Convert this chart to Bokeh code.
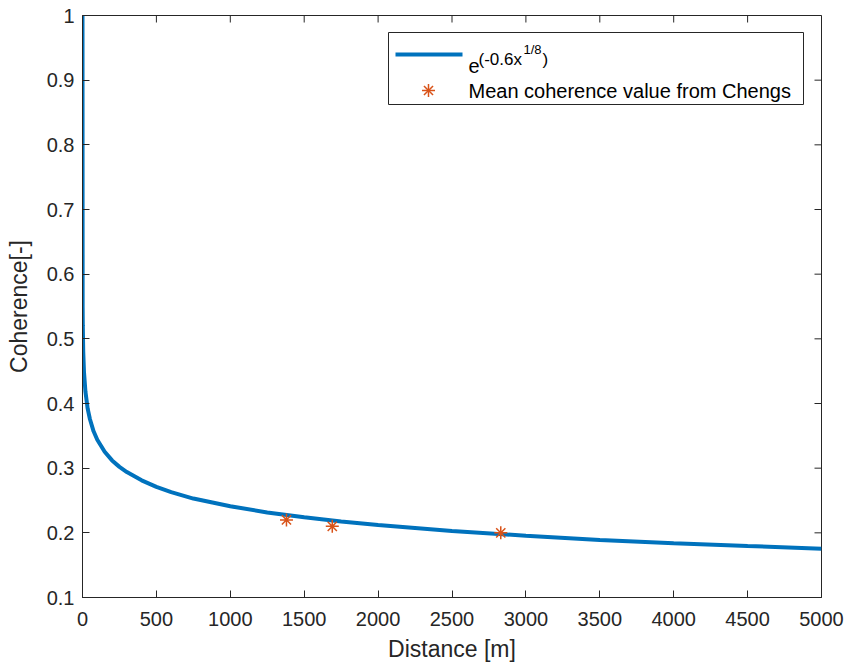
from bokeh.plotting import figure
from bokeh.models import (Range1d, LinearAxis, FixedTicker, BoxAnnotation, Label, Arrow)
from bokeh.embed import file_html
from bokeh.resources import INLINE

# ---- data ----
curve_x = [0, 1, 2, 5, 10, 20, 35, 50, 75, 100, 150, 200, 250, 300, 400, 500, 600,
           750, 1000, 1250, 1500, 1750, 2000, 2500, 3000, 3500, 4000, 4500, 5000]
curve_y = [1.0, 0.549, 0.520, 0.480, 0.449, 0.418, 0.392, 0.376, 0.357, 0.344, 0.3255,
           0.312, 0.302, 0.294, 0.2812, 0.271, 0.263, 0.253, 0.241, 0.2315, 0.224,
           0.2174, 0.212, 0.203, 0.1955, 0.189, 0.184, 0.1796, 0.1755]
pts_x = [1380, 1690, 2830]
pts_y = [0.22, 0.21, 0.20]
x_ticks = [0, 500, 1000, 1500, 2000, 2500, 3000, 3500, 4000, 4500, 5000]
y_ticks = [0.1, 0.2, 0.3, 0.4, 0.5, 0.6, 0.7, 0.8, 0.9, 1.0]
y_tick_labels = ["0.1", "0.2", "0.3", "0.4", "0.5", "0.6", "0.7", "0.8", "0.9", "1"]
x_label = "Distance [m]"
y_label = "Coherence[-]"
legend_text_2 = "Mean coherence value from Chengs"

BLUE = "#0072BD"
ORANGE = "#D95319"
AX = "#262626"
FONT = "Liberation Sans"

X0, X1 = 0, 5000
Y0, Y1 = 0.1, 1.0
FW, FH = 739, 582   # frame size in px
TICK = 7

p = figure(width=849, height=668, output_backend="svg", toolbar_location=None,
           x_range=Range1d(X0, X1), y_range=Range1d(Y0, Y1),
           min_border_left=82, min_border_right=28, min_border_top=15, min_border_bottom=71,
           x_axis_location=None, y_axis_location=None)
p.grid.visible = False
p.background_fill_color = "white"
p.border_fill_color = "white"
p.outline_line_color = AX

def style(ax):
    ax.axis_line_color = AX
    ax.major_tick_line_color = AX
    ax.major_tick_in = TICK
    ax.major_tick_out = 0
    ax.minor_tick_line_color = None
    ax.major_label_text_color = AX
    ax.major_label_text_font = FONT
    ax.major_label_text_font_size = "20px"
    ax.axis_label_text_font = FONT
    ax.axis_label_text_font_size = "23px"
    ax.axis_label_text_font_style = "normal"
    ax.axis_label_text_color = AX

xb = LinearAxis(ticker=FixedTicker(ticks=x_ticks), axis_label=x_label)
style(xb)
xb.major_label_standoff = 14
xb.axis_label_standoff = 7
yl = LinearAxis(ticker=FixedTicker(ticks=y_ticks), axis_label=y_label)
style(yl)
yl.major_label_standoff = 8
yl.axis_label_standoff = 12
yl.major_label_overrides = {t: s for t, s in zip(y_ticks, y_tick_labels)}
p.add_layout(xb, "below")
p.add_layout(yl, "left")

# inward ticks on the top and right edges of the box
dy = TICK * (Y1 - Y0) / FH
dx = TICK * (X1 - X0) / FW
p.segment(x0=x_ticks, y0=[Y1] * len(x_ticks), x1=x_ticks, y1=[Y1 - dy] * len(x_ticks),
          line_color=AX, line_width=1)
p.segment(x0=[X1] * len(y_ticks), y0=y_ticks, x1=[X1 - dx] * len(y_ticks), y1=y_ticks,
          line_color=AX, line_width=1)

p.line(curve_x, curve_y, line_color=BLUE, line_width=4)
p.scatter(pts_x, pts_y, marker="asterisk", size=13, line_color=ORANGE, line_width=1.5)

# ---- legend (screen units relative to plot frame) ----
p.add_layout(BoxAnnotation(left=306, right=721, bottom=493, top=565,
                           left_units="screen", right_units="screen",
                           bottom_units="screen", top_units="screen",
                           fill_color="white", fill_alpha=1.0,
                           line_color=AX, line_width=1, line_alpha=1.0))
p.add_layout(Arrow(x_start=313, y_start=543, x_end=380, y_end=543,
                   start_units="screen", end_units="screen", end=None,
                   line_color=BLUE, line_width=4))
cx, cy, r = 346, 507, 6.5
r2 = r * 0.7
for (dx0, dy0, dx1, dy1) in [(0, -r, 0, r), (-r, 0, r, 0), (-r2, -r2, r2, r2), (-r2, r2, r2, -r2)]:
    p.add_layout(Arrow(x_start=cx + dx0, y_start=cy + dy0, x_end=cx + dx1, y_end=cy + dy1,
                       start_units="screen", end_units="screen", end=None,
                       line_color=ORANGE, line_width=1.5))

def lab(x, y, t, size):
    p.add_layout(Label(x=x, y=y, x_units="screen", y_units="screen", text=t,
                       text_font=FONT, text_font_size=size, text_color="black",
                       text_align="left", text_baseline="alphabetic"))

lab(386, 532, "e", "20px")
lab(396, 538, "(-0.6x", "17px")
lab(441, 548, "1/8", "13px")
lab(460, 538, ")", "17px")
lab(386, 507, legend_text_2, "20px")

open("out.html", "w").write(file_html(p, INLINE))
